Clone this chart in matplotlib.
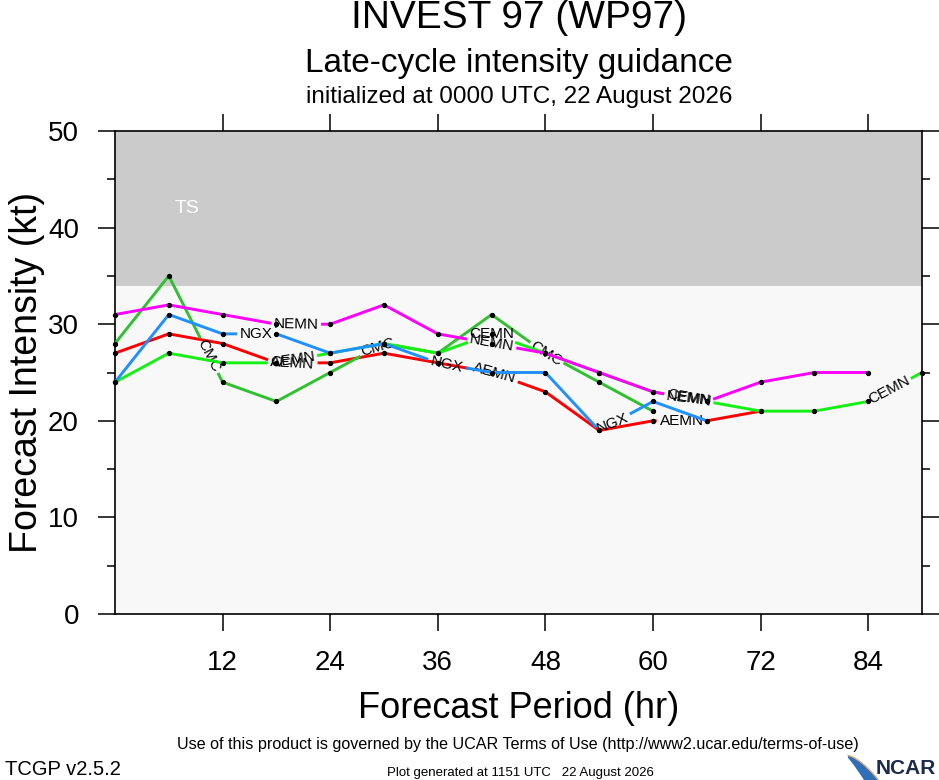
import numpy as np
import matplotlib
matplotlib.use("Agg")
import matplotlib.pyplot as plt
from matplotlib.patches import Polygon
from matplotlib.ticker import MultipleLocator

plt.rcParams['font.family'] = ['Liberation Sans', 'DejaVu Sans']

# forecast hours and intensities (kt)
hrs_aemn = [0, 6, 12, 18, 24, 30, 36, 42, 48, 54, 60, 66, 72]
aemn = [27, 29, 28, 26, 26, 27, 26, 25, 23, 19, 20, 20, 21]

hrs_cmc = [0, 6, 12, 18, 24, 30, 36, 42, 48, 54, 60]
cmc = [28, 35, 24, 22, 25, 28, 27, 31, 27, 24, 21]

hrs_cemn = [0, 6, 12, 18, 24, 30, 36, 42, 48, 54, 60, 66, 72, 78, 84, 90]
cemn = [24, 27, 26, 26, 27, 28, 27, 29, 27, 25, 23, 22, 21, 21, 22, 25]

hrs_ngx = [0, 6, 12, 18, 24, 30, 36, 42, 48, 54, 60, 66]
ngx = [24, 31, 29, 29, 27, 28, 26, 25, 25, 19, 22, 20]

hrs_nemn = [0, 6, 12, 18, 24, 30, 36, 42, 48, 54, 60, 66, 72, 78, 84]
nemn = [31, 32, 31, 30, 30, 32, 29, 28, 27, 25, 23, 22, 24, 25, 25]

# where the model names sit along each line (hour)
lab_aemn = [19.8, 42.3, 63.2]
lab_cmc = [10.5, 29.3, 48.1]
lab_cemn = [19.8, 42.0, 64.0, 86.3]
lab_ngx = [15.8, 37.0, 55.5]
lab_nemn = [20.2, 42.0, 64.0]

xticks = [12, 24, 36, 48, 60, 72, 84]
ts_low = 34

W, H = 939, 780
fig = plt.figure(figsize=(W / 100, H / 100), dpi=100)
ax = fig.add_axes([115 / W, 1 - 614 / H, (922 - 115) / W, (614 - 131) / H])
ax.set_xlim(0, 90)
ax.set_ylim(0, 50)
ax.set_facecolor('#f8f8f8')
ax.axhspan(ts_low, 50, color='#cbcbcb', zorder=0, lw=0)
ax.text(8, 42, 'TS', color='white', fontsize=14, ha='center', va='center')

ax.set_xticks(xticks)
ax.yaxis.set_major_locator(MultipleLocator(10))
ax.yaxis.set_minor_locator(MultipleLocator(5))
ax.tick_params(axis='x', which='major', direction='out', length=12, width=1.1,
               top=True, labeltop=False, pad=14, labelsize=20)
ax.tick_params(axis='y', which='major', direction='out', length=12, width=1.1,
               right=True, labelright=False, pad=14, labelsize=20)
ax.tick_params(axis='y', which='minor', direction='out', length=6, width=1.1,
               right=True)
for sp in ax.spines.values():
    sp.set_linewidth(1.2)


def draw_model(x, y, color, name, label_x, z):
    x = np.asarray(x, float)
    y = np.asarray(y, float)
    P = ax.transData.transform(np.column_stack([x, y]))
    s = np.concatenate([[0], np.cumsum(np.hypot(*np.diff(P, axis=0).T))])

    def at(sv):
        return np.array([np.interp(sv, s, P[:, 0]), np.interp(sv, s, P[:, 1])])

    hw = 5.5 * len(name) + 3
    gaps = []
    for lx in label_x:
        sc = np.interp(lx, x, s)
        a, b = at(sc - hw), at(sc + hw)
        ang = np.degrees(np.arctan2(b[1] - a[1], b[0] - a[0]))
        c = ax.transData.inverted().transform(at(sc))
        ax.text(c[0], c[1], name, fontsize=11, rotation=ang, rotation_mode='anchor',
                ha='center', va='center', zorder=z + 0.5, clip_on=False)
        gaps.append((sc - hw, sc + hw))
    # pieces of the line between the labels
    keep = []
    start = 0.0
    for g0, g1 in sorted(gaps):
        keep.append((start, max(start, g0)))
        start = g1
    keep.append((start, s[-1]))
    for a, b in keep:
        if b <= a:
            continue
        pts = [at(a)] + [P[i] for i in range(len(s)) if a < s[i] < b] + [at(b)]
        d = ax.transData.inverted().transform(np.array(pts))
        ax.plot(d[:, 0], d[:, 1], color=color, lw=2.1, zorder=z, clip_on=False,
                solid_capstyle='butt')
    ax.plot(x, y, 'o', color='black', ms=2.8, zorder=z + 0.2, clip_on=False)


draw_model(hrs_aemn, aemn, '#ff0000', 'AEMN', lab_aemn, 3)
draw_model(hrs_cmc, cmc, '#30c030', 'CMC', lab_cmc, 4)
draw_model(hrs_cemn, cemn, '#14f014', 'CEMN', lab_cemn, 5)
draw_model(hrs_ngx, ngx, '#1e90ff', 'NGX', lab_ngx, 6)
draw_model(hrs_nemn, nemn, '#ff00ff', 'NEMN', lab_nemn, 7)

# titles
fig.text(519 / W, 1 - 28 / H, 'INVEST 97 (WP97)', fontsize=28, ha='center', va='baseline')
fig.text(519 / W, 1 - 72 / H, 'Late-cycle intensity guidance', fontsize=24,
         ha='center', va='baseline')
fig.text(519 / W, 1 - 103 / H, 'initialized at 0000 UTC, 22 August 2026', fontsize=17.5,
         ha='center', va='baseline')
fig.text(519 / W, 1 - 718 / H, 'Forecast Period (hr)', fontsize=26, ha='center',
         va='baseline')
fig.text(27 / W, 1 - 372 / H, 'Forecast Intensity (kt)', fontsize=27, rotation=90,
         ha='center', va='center')

# footer
fig.text(518 / W, 1 - 749 / H,
         'Use of this product is governed by the UCAR Terms of Use (http://www2.ucar.edu/terms-of-use)',
         fontsize=11.6, ha='center', va='baseline')
fig.text(5 / W, 1 - 775 / H, 'TCGP v2.5.2', fontsize=14.5, ha='left', va='baseline')
fig.text(520 / W, 1 - 776 / H, 'Plot generated at 1151 UTC   22 August 2026',
         fontsize=9.5, ha='center', va='baseline')

# NCAR logo
t = np.linspace(0, 1, 30)
outer = np.column_stack([848 + 30 * t, 756 + 24 * t ** 1.5])
inner = np.column_stack([848 + 16 * t[::-1], 758 + 22 * t[::-1] ** 1.1])
swoosh = np.vstack([outer, inner])
swoosh[:, 1] = H - swoosh[:, 1]
fig.patches.append(Polygon(swoosh / [W, H], closed=True, transform=fig.transFigure,
                           facecolor='#2f6fb8', edgecolor='none'))
edge = np.column_stack([848 + 30 * t, H - (755.5 + 24 * t ** 1.5)])
fig.lines.append(plt.Line2D(edge[:, 0] / W, edge[:, 1] / H, color='#e8a060', lw=0.9,
                            transform=fig.transFigure))
fig.text(936 / W, 1 - 774 / H, 'NCAR', fontsize=15, fontweight='bold', color='#1c2a4e',
         ha='right', va='baseline')

fig.savefig('out.png', dpi=100)
